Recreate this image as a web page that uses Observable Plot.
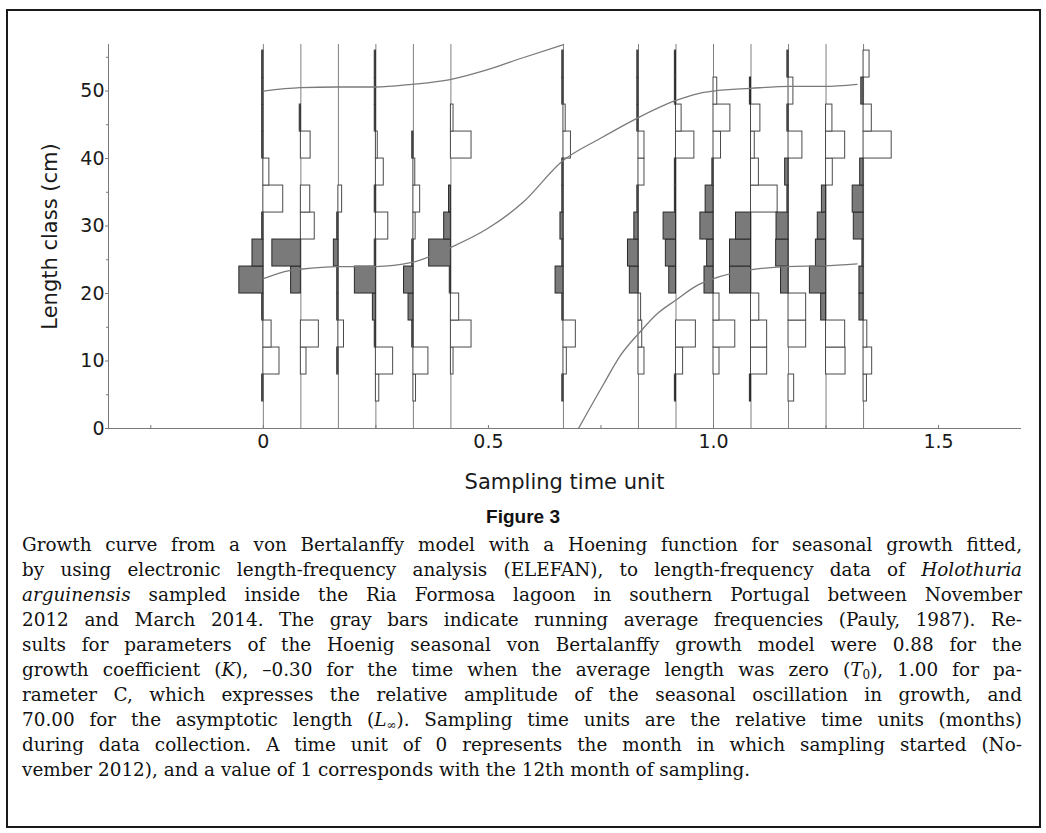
<!DOCTYPE html>
<html><head><meta charset="utf-8">
<script src="https://cdn.jsdelivr.net/npm/d3@7"></script>
<script src="https://cdn.jsdelivr.net/npm/@observablehq/plot@0.6"></script>
<style>
body{margin:0;background:#fff;width:1046px;height:833px;position:relative;overflow:hidden}
#frame{position:absolute;left:6px;top:9px;width:1031px;height:815px;border:2px solid #1a1a1a;box-sizing:content-box}
#chart{position:absolute;left:0;top:0}
#title{position:absolute;top:506px;left:0;width:1046px;text-align:center;font-family:"Liberation Sans Narrow","Liberation Sans",sans-serif;font-weight:bold;font-size:19px;color:#111}
#caption{position:absolute;left:22px;top:532px;width:1000px;font-family:"DejaVu Serif",serif;font-size:18.4px;line-height:25px;color:#111}
.ln{text-align:justify;text-align-last:justify;height:25px;white-space:nowrap}
.ln.last{text-align-last:left}
.ln span.inner{display:inline}
sub{font-size:12px;line-height:0;vertical-align:-3px}
</style></head>
<body>
<div id="frame"></div>
<div id="chart"></div>
<div id="title"></div>
<div id="caption"></div>
<script>
// sampling months (time unit = month/12)
const monthIndex = [0, 1, 2, 3, 4, 5, 8, 10, 11, 12, 13, 14, 15, 16];
// length classes (lower bounds, cm), 4-cm wide
const classLower = [0, 4, 8, 12, 16, 20, 24, 28, 32, 36, 40, 44, 48, 52];
const classWidth = 4;
// restructured frequency scores per sample (one value per length class)
const s00 = [0, -0.03, 0.43, 0.22, -0.03, -0.64, -0.29, -0.03, 0.53, 0.16, -0.03, -0.03, -0.03, -0.03];
const s01 = [0, 0, 0.15, 0.48, 0, -0.26, -0.76, 0.37, 0.25, 0, 0.26, -0.03, 0, 0];
const s02 = [0, 0, -0.03, 0.15, -0.03, -0.03, -0.12, -0.03, 0.10, 0, 0, 0, 0, 0];
const s03 = [0, 0.09, 0.46, -0.03, -0.08, -0.56, -0.03, 0.33, -0.03, 0.21, 0.05, -0.03, -0.03, -0.03];
const s04 = [0, 0.07, 0.40, -0.03, -0.13, -0.25, -0.03, 0.06, 0.18, 0.05, -0.03, 0, 0, 0];
const s05 = [0, 0, 0.07, 0.55, 0.22, -0.03, -0.58, -0.18, -0.05, 0, 0.55, 0.07, 0, 0];
const s08 = [0, -0.03, 0.09, 0.33, -0.03, -0.21, -0.03, -0.08, -0.03, -0.03, 0.20, 0.06, -0.03, -0.03];
const s10 = [0, 0, 0.16, 0.10, 0.07, -0.23, -0.28, -0.11, -0.03, 0.16, 0.16, -0.03, -0.03, -0.03];
const s11 = [0, -0.03, 0.19, 0.53, 0, -0.18, -0.27, -0.33, -0.03, -0.03, 0.49, 0.15, -0.03, -0.03];
const s12 = [0, 0, 0.16, 0.58, 0.16, -0.24, -0.17, -0.35, -0.21, -0.03, 0.20, 0.45, 0.10, 0];
const s13 = [0, -0.03, 0.43, 0.43, 0.22, -0.56, -0.56, -0.40, 0.71, 0.21, 0.10, 0.25, -0.03, 0];
const s14 = [0, 0.15, 0, 0.47, 0.47, -0.20, -0.33, -0.32, -0.03, -0.09, 0.37, -0.03, 0.13, -0.03];
const s15 = [0, 0, 0.52, 0.51, -0.13, -0.43, -0.27, -0.22, -0.11, 0.18, 0.51, 0.17, 0, 0];
const s16 = [0, 0.09, 0.23, 0.10, -0.11, -0.11, -0.03, -0.26, -0.29, -0.09, 0.75, 0.22, -0.06, 0.16];
const scores = [s00, s01, s02, s03, s04, s05, s08, s10, s11, s12, s13, s14, s15, s16];

// growth curves (time unit, length cm)
const curveA_t = [0, 0.082, 0.165, 0.249, 0.33, 0.415, 0.5, 0.575, 0.667];
const curveA_L = [50.0, 50.5, 50.6, 50.6, 51.0, 51.7, 53.2, 54.9, 56.9];
const curveB_t = [0, 0.058, 0.082, 0.165, 0.249, 0.33, 0.412, 0.5, 0.575, 0.664, 0.749, 0.831, 0.912, 0.964, 1.0, 1.082, 1.171, 1.245, 1.319];
const curveB_L = [22.2, 23.4, 23.6, 24.0, 24.0, 24.6, 26.7, 29.7, 33.4, 39.6, 43.0, 46.0, 48.5, 49.6, 50.0, 50.4, 50.7, 50.7, 51.0];
const curveC_t = [0.70, 0.756, 0.793, 0.834, 0.875, 0.916, 0.964, 1.0, 1.082, 1.164, 1.245, 1.319];
const curveC_L = [0, 6.6, 10.8, 14.1, 17.0, 19.0, 21.2, 22.2, 23.5, 24.0, 24.1, 24.4];

// axes
const xDomain = [-0.344, 1.682];
const yDomain = [0, 56.9];
const xMajor = [0, 0.5, 1.0, 1.5];
const xMajorLabels = ["0", "0.5", "1.0", "1.5"];
const xMinor = [-0.25, 0, 0.25, 0.5, 0.75, 1.0, 1.25, 1.5];
const yMajor = [0, 10, 20, 30, 40, 50];
const yMinor = [5, 15, 25, 35, 45, 55];
const xTitle = "Sampling time unit";
const yTitle = "Length class (cm)";

const figTitle = "Figure 3";
const captionLines = [
  "Growth curve from a von Bertalanffy model with a Hoening function for seasonal growth fitted,",
  "by using electronic length-frequency analysis (ELEFAN), to length-frequency data of <i>Holothuria</i>",
  "<i>arguinensis</i> sampled inside the Ria Formosa lagoon in southern Portugal between November",
  "2012 and March 2014. The gray bars indicate running average frequencies (Pauly, 1987). Re-",
  "sults for parameters of the Hoenig seasonal von Bertalanffy growth model were 0.88 for the",
  "growth coefficient (<i>K</i>), \u20130.30 for the time when the average length was zero (<i>T</i><sub>0</sub>), 1.00 for pa-",
  "rameter C, which expresses the relative amplitude of the seasonal oscillation in growth, and",
  "70.00 for the asymptotic length (<i>L</i><sub>\u221e</sub>). Sampling time units are the relative time units (months)",
  "during data collection. A time unit of 0 represents the month in which sampling started (No-",
  "vember 2012), and a value of 1 corresponds with the 12th month of sampling."
];

const times = monthIndex.map(m => m / 12);
const rows = [];
monthIndex.forEach((m, i) => scores[i].forEach((s, j) => {
  if (s !== 0) rows.push({t: m / 12, lo: classLower[j], hi: classLower[j] + classWidth, s});
}));
const toPts = (ts, ls) => ts.map((t, i) => ({t, L: ls[i]}));
const curves = [toPts(curveA_t, curveA_L), toPts(curveB_t, curveB_L), toPts(curveC_t, curveC_L)];

const axisGray = "#7a7a7a";
const chart = Plot.plot({
  width: 1046, height: 500,
  marginLeft: 108, marginRight: 26, marginTop: 44, marginBottom: 72,
  x: {domain: xDomain},
  y: {domain: yDomain},
  style: {fontFamily: "DejaVu Sans", fontSize: "19px", color: "#1a1a1a", background: "transparent", overflow: "visible"},
  marks: [
    Plot.ruleX(times, {stroke: "#808080", strokeWidth: 1}),
    Plot.rect(rows.filter(d => d.s > 0), {x1: "t", x2: d => d.t + d.s / 12, y1: "lo", y2: "hi", fill: "white", stroke: "#4a4a4a", strokeWidth: 1}),
    Plot.rect(rows.filter(d => d.s < 0), {x1: "t", x2: d => d.t + d.s / 12, y1: "lo", y2: "hi", fill: "#7a7a7a", stroke: "#2a2a2a", strokeWidth: 1}),
    ...curves.map(c => Plot.line(c, {x: "t", y: "L", stroke: "#7a7a7a", strokeWidth: 1.3, curve: "monotone-x"})),
    Plot.frame({anchor: "left", stroke: axisGray}),
    Plot.frame({anchor: "bottom", stroke: axisGray}),
    Plot.axisY({ticks: yMajor, tickSize: 3, tickPadding: 1, label: null, stroke: axisGray, fill: "#1a1a1a"}),
    Plot.axisY({ticks: yMinor, tickSize: 2, tickFormat: () => "", label: null, stroke: axisGray}),
    Plot.axisX({ticks: xMajor, tickSize: 0, tickPadding: 6, tickFormat: d => xMajorLabels[xMajor.indexOf(d)], label: null, fill: "#1a1a1a"}),
    Plot.axisX({ticks: xMinor, tickSize: -3, tickFormat: () => "", label: null, stroke: axisGray}),
    Plot.text([xTitle], {text: d => d, frameAnchor: "bottom", dy: 60, fontSize: 21, fill: "#1a1a1a"}),
    Plot.text([yTitle], {text: d => d, frameAnchor: "left", textAnchor: "middle", dx: -58, rotate: -90, fontSize: 21, fill: "#1a1a1a"})
  ]
});
document.getElementById("chart").append(chart);
document.getElementById("title").textContent = figTitle;
const cap = document.getElementById("caption");
captionLines.forEach((l, i) => {
  const div = document.createElement("div");
  div.className = "ln" + (i === captionLines.length - 1 ? " last" : "");
  const span = document.createElement("span");
  span.innerHTML = l;
  div.append(span);
  cap.append(div);
  // shrink a line slightly if its natural width exceeds the column
  const w = span.getBoundingClientRect().width;
  if (w > 1000) div.style.fontSize = (18.4 * 1000 / w - 0.05) + "px";
});
</script>
</body></html>
